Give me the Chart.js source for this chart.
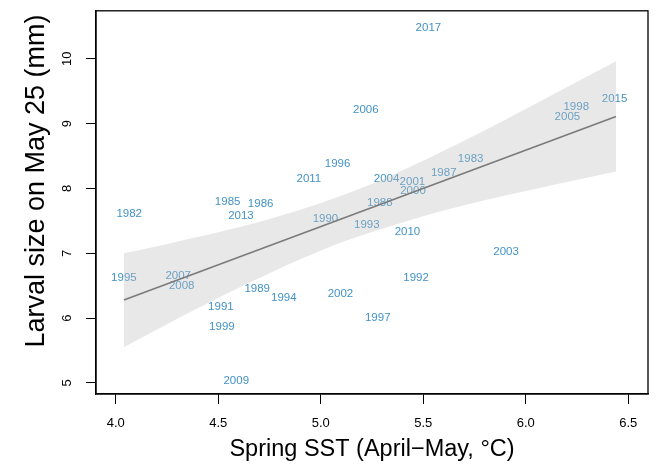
<!DOCTYPE html>
<html>
<head>
<meta charset="utf-8">
<script src="https://cdn.jsdelivr.net/npm/chart.js@4/dist/chart.umd.min.js"></script>
<style>
  html, body { margin: 0; padding: 0; background: #fff; }
  #wrap { width: 664px; height: 467px; }
</style>
</head>
<body>
<div id="wrap"><canvas id="c" width="664" height="467"></canvas></div>
<script>
// ---- data ----
const years = ['1982','1983','1985','1986','1987','1988','1989','1990','1991','1992','1993','1994','1995','1996','1997','1998','1999','2000','2001','2002','2003','2004','2005','2006','2007','2008','2009','2010','2011','2013','2015','2017'];
const sst   = [4.066, 5.731, 4.546, 4.707, 5.600, 5.288, 4.690, 5.023, 4.513, 5.465, 5.225, 4.820, 4.040, 5.082, 5.278, 6.246, 4.518, 5.450, 5.447, 5.096, 5.904, 5.321, 6.203, 5.220, 4.305, 4.322, 4.588, 5.423, 4.942, 4.611, 6.433, 5.525];
const larvalSize = [7.61, 8.455, 7.79, 7.758, 8.24, 7.774, 6.446, 7.528, 6.178, 6.625, 7.435, 6.312, 6.62, 8.385, 6.005, 9.266, 5.871, 7.969, 8.10, 6.369, 7.025, 8.154, 9.112, 9.22, 6.651, 6.502, 5.035, 7.338, 8.143, 7.585, 9.379, 10.477];

const fitX = [4.04, 6.44];
const fitY = [6.28, 9.11];

const bandX     = [4.04, 4.30, 4.60, 4.90, 5.11, 5.30, 5.60, 5.90, 6.20, 6.44];
const bandUpper = [7.00, 7.18, 7.40, 7.67, 7.90, 8.14, 8.58, 9.06, 9.56, 9.96];
const bandLower = [5.55, 5.99, 6.47, 6.91, 7.18, 7.38, 7.66, 7.89, 8.10, 8.26];

const xTicks = [4.0, 4.5, 5.0, 5.5, 6.0, 6.5];
const xTickLabels = ['4.0', '4.5', '5.0', '5.5', '6.0', '6.5'];
const yTicks = [5, 6, 7, 8, 9, 10];
const yTickLabels = ['5', '6', '7', '8', '9', '10'];

const xTitle = 'Spring SST (April\u2212May, \u00B0C)';
const yTitle = 'Larval size on May 25 (mm)';

// ---- chart ----
const FONT = '"Liberation Sans", Arial, Helvetica, sans-serif';
const zip = (xs, ys) => xs.map((x, i) => ({ x: x, y: ys[i] }));

const yearLabels = {
  id: 'yearLabels',
  beforeDatasetsDraw(chart) {
    const ctx = chart.ctx;
    const meta = chart.getDatasetMeta(3);
    ctx.save();
    ctx.font = '11.5px ' + FONT;
    ctx.fillStyle = '#4292c6';
    ctx.textAlign = 'center';
    ctx.textBaseline = 'middle';
    meta.data.forEach((pt, i) => {
      ctx.fillText(years[i], pt.x, pt.y);
    });
    ctx.restore();
  }
};

const frame = {
  id: 'frame',
  afterDraw(chart) {
    const ctx = chart.ctx;
    const a = chart.chartArea;
    ctx.save();
    ctx.strokeStyle = '#000';
    ctx.lineWidth = 1.3;
    ctx.strokeRect(a.left, a.top, a.right - a.left, a.bottom - a.top);
    // rotated y tick labels (as in R)
    const ys = chart.scales.y;
    ctx.font = '13px ' + FONT;
    ctx.fillStyle = '#000';
    ctx.textAlign = 'center';
    ctx.textBaseline = 'middle';
    yTicks.forEach((v, i) => {
      const py = ys.getPixelForValue(v);
      ctx.save();
      ctx.translate(67, py);
      ctx.rotate(-Math.PI / 2);
      ctx.fillText(yTickLabels[i], 0, 0);
      ctx.restore();
    });
    // y axis title
    ctx.font = '27px ' + FONT;
    ctx.save();
    ctx.translate(37, 181);
    ctx.rotate(-Math.PI / 2);
    ctx.fillText(yTitle, 0, 0);
    ctx.restore();
    ctx.restore();
  }
};

new Chart(document.getElementById('c'), {
  type: 'scatter',
  data: {
    datasets: [
      {
        label: 'fit',
        data: zip(fitX, fitY),
        showLine: true,
        borderColor: '#7b7b7b',
        borderWidth: 1.7,
        pointRadius: 0,
        fill: false,
        order: 0
      },
      {
        label: 'upper',
        data: zip(bandX, bandUpper),
        showLine: true,
        cubicInterpolationMode: 'monotone',
        borderColor: 'rgba(0,0,0,0)',
        borderWidth: 0,
        pointRadius: 0,
        backgroundColor: 'rgba(190,190,190,0.35)',
        fill: '+1',
        order: 1
      },
      {
        label: 'lower',
        data: zip(bandX, bandLower),
        showLine: true,
        cubicInterpolationMode: 'monotone',
        borderColor: 'rgba(0,0,0,0)',
        borderWidth: 0,
        pointRadius: 0,
        fill: false,
        order: 2
      },
      {
        label: 'years',
        data: zip(sst, larvalSize),
        showLine: false,
        pointRadius: 0,
        pointHoverRadius: 0,
        order: 3
      }
    ]
  },
  options: {
    responsive: false,
    animation: false,
    devicePixelRatio: 1,
    layout: { padding: { top: 10, right: 16, left: 0, bottom: 0 } },
    plugins: {
      legend: { display: false },
      tooltip: { enabled: false }
    },
    scales: {
      x: {
        type: 'linear',
        min: 3.904,
        max: 6.596,
        afterBuildTicks: s => { s.ticks = xTicks.map(v => ({ value: v })); },
        afterFit: s => { s.height = 73; },
        ticks: {
          autoSkip: false,
          maxRotation: 0,
          padding: 12,
          color: '#000',
          font: { family: FONT, size: 13 },
          callback: (v, i) => xTickLabels[i]
        },
        grid: { drawOnChartArea: false, drawTicks: true, tickLength: 10, color: '#000', tickColor: '#000', lineWidth: 1 },
        border: { display: true, color: '#000', width: 1.3 },
        title: { display: true, text: xTitle, color: '#000', font: { family: FONT, size: 23.5 }, padding: { top: 0, bottom: 3 } }
      },
      y: {
        type: 'linear',
        min: 4.83,
        max: 10.74,
        afterBuildTicks: s => { s.ticks = yTicks.map(v => ({ value: v })); },
        afterFit: s => { s.width = 96; },
        ticks: {
          autoSkip: false,
          color: 'rgba(0,0,0,0)',
          font: { family: FONT, size: 13 },
          callback: (v, i) => yTickLabels[i]
        },
        grid: { drawOnChartArea: false, drawTicks: true, tickLength: 10, color: '#000', tickColor: '#000', lineWidth: 1 },
        border: { display: true, color: '#000', width: 1.3 },
        title: { display: false }
      }
    }
  },
  plugins: [yearLabels, frame]
});
</script>
</body>
</html>
